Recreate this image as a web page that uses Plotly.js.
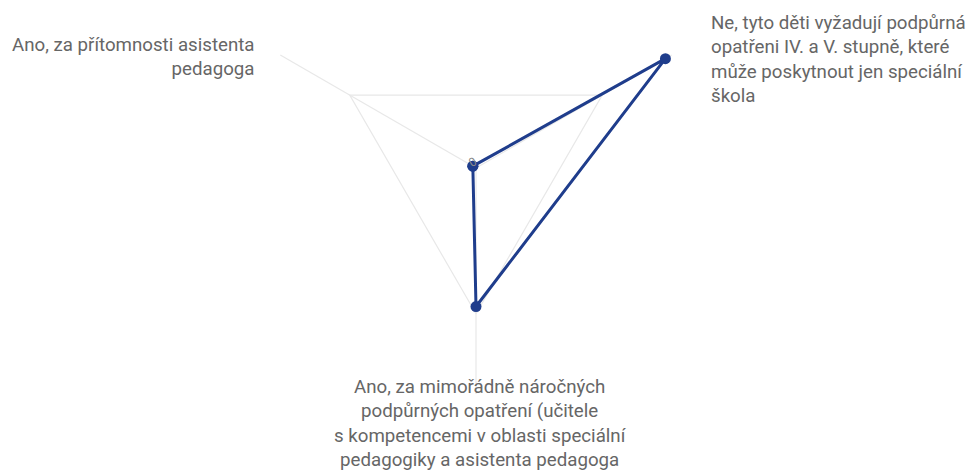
<!DOCTYPE html>
<html>
<head>
<meta charset="utf-8">
<script src="https://cdn.plot.ly/plotly-3.0.1.min.js"></script>
<style>
html,body{margin:0;padding:0;background:#fff;overflow:hidden;width:980px;height:472px;}
#chart{position:absolute;left:0;top:-70px;width:980px;height:542px;}
</style>
</head>
<body>
<div id="chart"></div>
<script>
// Data
const categories = [
  "Ano, za přítomnosti asistenta pedagoga",
  "Ne, tyto děti vyžadují podpůrná opatřeni IV. a V. stupně, které může poskytnout jen speciální škola",
  "Ano, za mimořádně náročných podpůrných opatření (učitele s kompetencemi v oblasti speciální pedagogiky a asistenta pedagoga"
];
const labelLines = [
  ["Ano, za přítomnosti asistenta", "pedagoga"],
  ["Ne, tyto děti vyžadují podpůrná", "opatřeni IV. a V. stupně, které", "může poskytnout jen speciální", "škola"],
  ["Ano, za mimořádně náročných", "podpůrných opatření (učitele", "s kompetencemi v oblasti speciální", "pedagogiky a asistenta pedagoga"]
];
const values = [1, 60, 38];
const radialTicks = [0, 40];
const radialTickText = ["0", ""];

const W = 980, H = 542, OFF = 70;
const cx = 476, cy = 168, R = 226;
function px(x){ return x / W; }
function py(y){ return 1 - (y + OFF) / H; }

const trace = {
  type: 'scatterpolar',
  r: values.concat([values[0]]),
  theta: categories.concat([categories[0]]),
  mode: 'lines+markers',
  cliponaxis: false,
  line: {color: '#1f3d8c', width: 3},
  marker: {color: '#1f3d8c', size: 11},
  hoverinfo: 'skip',
  showlegend: false
};

const font = {family: 'Roboto, sans-serif', size: 18.7, color: '#666666'};
const annPos = [
  {x: 257, y: 57, xanchor: 'right', align: 'right'},
  {x: 709, y: 59, xanchor: 'left', align: 'left'},
  {x: 480, y: 423, xanchor: 'center', align: 'center'}
];
const annotations = labelLines.map((lines, i) => ({
  xref: 'paper', yref: 'paper',
  x: px(annPos[i].x), y: py(annPos[i].y),
  xanchor: annPos[i].xanchor, yanchor: 'middle', align: annPos[i].align,
  text: lines.join('<br>'), showarrow: false, font: font
}));

const layout = {
  width: W, height: H,
  margin: {l: 0, r: 0, t: 0, b: 0},
  paper_bgcolor: '#ffffff',
  plot_bgcolor: '#ffffff',
  showlegend: false,
  polar: {
    domain: {x: [px(cx - R), px(cx + R)], y: [py(cy + R), py(cy - R)]},
    bgcolor: 'rgba(0,0,0,0)',
    gridshape: 'linear',
    angularaxis: {
      type: 'category',
      rotation: 150,
      direction: 'clockwise',
      showline: false,
      showticklabels: false,
      ticks: '',
      gridcolor: '#e8e8e8',
      gridwidth: 1.2
    },
    radialaxis: {
      range: [0, 62],
      angle: 90,
      side: 'counterclockwise',
      tickangle: 0,
      tickvals: radialTicks,
      ticktext: radialTickText,
      showline: false,
      ticks: '',
      gridcolor: '#e8e8e8',
      gridwidth: 1.2,
      tickfont: {family: 'Roboto, sans-serif', size: 12, color: '#888888'}
    }
  },
  annotations: annotations
};

Plotly.newPlot('chart', [trace], layout, {displayModeBar: false, staticPlot: true});
</script>
</body>
</html>
